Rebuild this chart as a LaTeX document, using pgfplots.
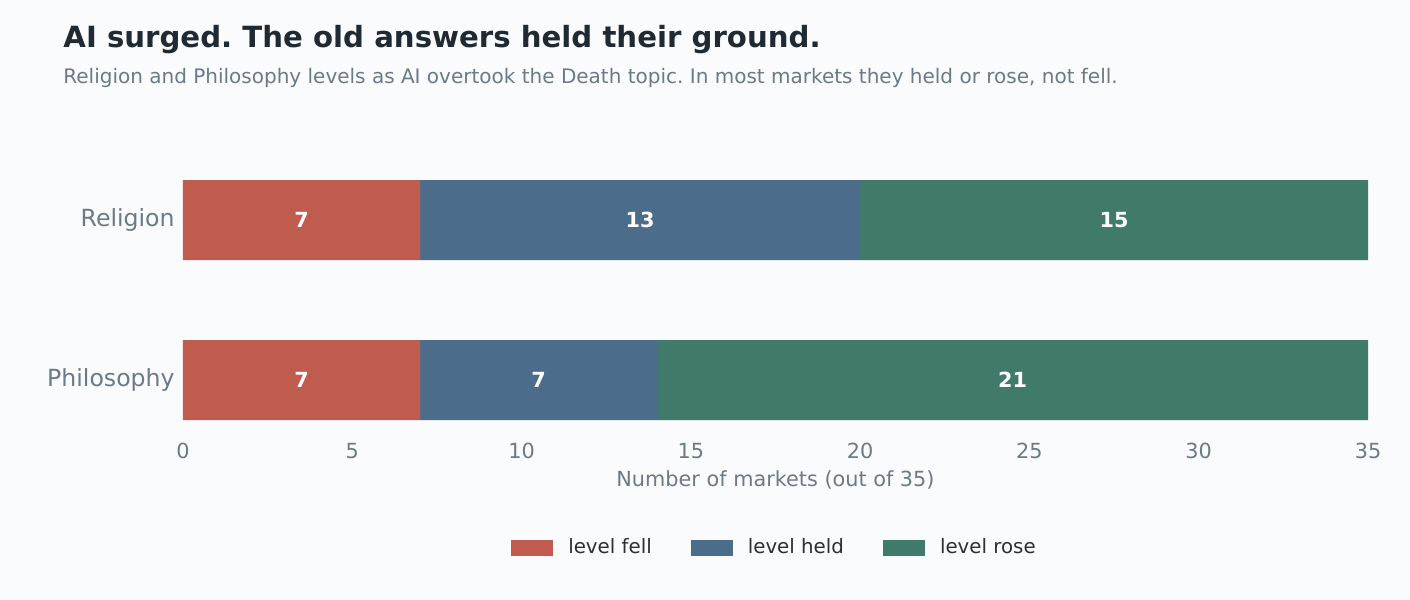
\documentclass[border=0pt]{standalone}
\usepackage{fontspec}
\setmainfont{DejaVu Sans}
\usepackage{pgfplots}
\pgfplotsset{compat=1.18}
\definecolor{bgc}{HTML}{FAFBFD}
\definecolor{titlec}{HTML}{1F2A33}
\definecolor{greyc}{HTML}{6B7A88}
\definecolor{legc}{HTML}{2A3038}
\definecolor{fellc}{HTML}{C05C4E}
\definecolor{heldc}{HTML}{4C6C8C}
\definecolor{rosec}{HTML}{3F7A6A}

\begin{document}
\frenchspacing
\begin{tikzpicture}[x=1pt,y=1pt]
\path[fill=bgc, use as bounding box] (0,0) rectangle (705,300);
\node[anchor=base west, inner sep=0, text=titlec, font=\fontsize{14.6}{17}\selectfont\bfseries]
  at (31.5,276) {AI surged. The old answers held their ground.};
\node[anchor=base west, inner sep=0, text=greyc, font=\fontsize{10}{12}\selectfont]
  at (31.5,258) {Religion and Philosophy levels as AI overtook the Death topic. In most markets they held or rose, not fell.};

% stacked bars
\begin{axis}[
    at={(91.5pt,90pt)}, anchor=south west,
    width=592.5pt, height=120pt, scale only axis,
    xmin=0, xmax=35, ymin=-0.25, ymax=1.25,
    xbar stacked, bar width=40pt,
    axis line style={draw=none},
    major tick length=0,
    ytick={0,1}, yticklabels={Philosophy,Religion},
    xtick={0,5,...,35},
    yticklabel style={anchor=east, inner sep=0, xshift=-4pt, text=greyc,
        font=\fontsize{11.8}{14}\selectfont},
    xticklabel style={anchor=base, inner sep=0, yshift=-19pt, text=greyc,
        font=\fontsize{10.4}{12}\selectfont},
    /pgf/number format/assume math mode=true,
    xlabel={Number of markets (out of 35)},
    xlabel style={at={(axis description cs:0.5,-0.25)}, anchor=center, inner sep=0,
        text=greyc, font=\fontsize{10.4}{12}\selectfont},
    legend columns=3,
    legend style={draw=none, fill=none, at={(axis description cs:0.5,-0.533)},
        anchor=center, text=legc, font=\fontsize{9.9}{12}\selectfont,
        /tikz/every odd column/.append style={column sep=5.5pt},
        /tikz/every even column/.append style={column sep=17.5pt}},
    legend image code/.code={\fill[#1] (0pt,-4pt) rectangle (21pt,4pt);},
]
\addplot[fill=fellc, draw=none] coordinates {(7,0) (7,1)};
\addlegendentry{level fell}
\addplot[fill=heldc, draw=none] coordinates {(7,0) (13,1)};
\addlegendentry{level held}
\addplot[fill=rosec, draw=none] coordinates {(21,0) (15,1)};
\addlegendentry{level rose}
\end{axis}

% segment labels
\begin{axis}[
    at={(91.5pt,90pt)}, anchor=south west,
    width=592.5pt, height=120pt, scale only axis,
    xmin=0, xmax=35, ymin=-0.25, ymax=1.25,
    hide axis,
]
\addplot[draw=none, nodes near coords, point meta=explicit symbolic,
    nodes near coords style={anchor=center, text=white,
        font=\fontsize{10.4}{12}\selectfont\bfseries}]
  coordinates {(3.5,1)[7] (13.5,1)[13] (27.5,1)[15]
               (3.5,0)[7] (10.5,0)[7] (24.5,0)[21]};
\end{axis}
\end{tikzpicture}
\end{document}
